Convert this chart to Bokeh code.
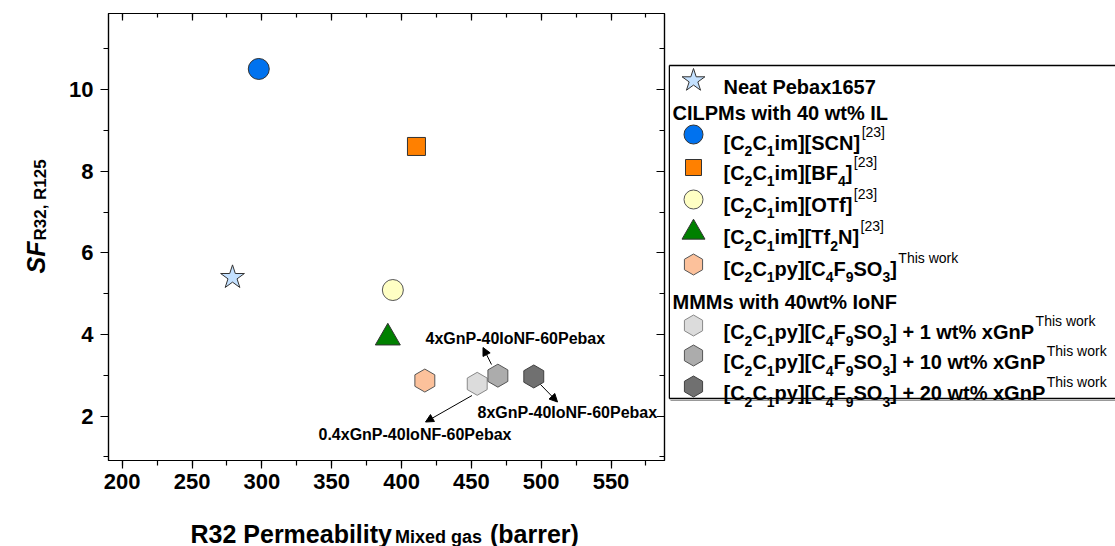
import numpy as np
from bokeh.plotting import figure
from bokeh.layouts import row, column
from bokeh.models import (Range1d, LinearAxis, SingleIntervalTicker, Label, Arrow,
                          NormalHead, CustomJSTickFormatter, ColumnDataSource)
from bokeh.embed import file_html
from bokeh.resources import INLINE

FONT = "Liberation Sans"

# ---------------- data ----------------
series = ["Neat Pebax1657", "[C2C1im][SCN]", "[C2C1im][BF4]", "[C2C1im][OTf]",
          "[C2C1im][Tf2N]", "[C2C1py][C4F9SO3]", "[C2C1py][C4F9SO3] + 1 wt% xGnP",
          "[C2C1py][C4F9SO3] + 10 wt% xGnP", "[C2C1py][C4F9SO3] + 20 wt% xGnP"]
permeability = [279.0, 297.8, 410.7, 393.8, 390.2, 416.7, 454.2, 469.0, 494.7]
selectivity = [5.40, 10.51, 8.61, 5.09, 3.92, 2.87, 2.79, 2.99, 2.97]

x_ticks_interval = 50
y_ticks_interval = 2

# ---------------- styles ----------------
markers = ["star", "circle", "square", "circle", "triangle", "hex", "hex", "hex", "hex"]
fills = ["#c4e1ff", "#0072ef", "#ff8000", "#ffffc4", "#008000", "#fcc19b",
         "#dcdcdc", "#acacac", "#707070"]
lines = ["#333333", "#333333", "#333333", "#555555", "#333333", "#555555",
         "#888888", "#555555", "#404040"]
plot_sizes = [25, 21, 18, 21, 25, 23, 23, 23, 23]
leg_sizes = [24, 19, 16, 19, 23, 21, 21, 21, 21]
angles = [0, 0, 0, 0, 0, np.pi / 2, np.pi / 2, np.pi / 2, np.pi / 2]

# ---------------- text metrics (Arial / Liberation Sans) ----------------
BOLD_W = {' ': 278, '%': 889, '(': 333, ')': 333, '+': 584, ',': 278, '-': 333, '.': 278,
          '[': 333, ']': 333}
for c in "0123456789":
    BOLD_W[c] = 556
BOLD_W.update(dict(zip("ABCDEFGHIJKLMNOPQRSTUVWXYZ",
                       [722, 722, 722, 722, 667, 611, 778, 722, 278, 556, 722, 611, 833,
                        722, 778, 667, 778, 722, 667, 611, 722, 667, 944, 667, 667, 611])))
BOLD_W.update(dict(zip("abcdefghijklmnopqrstuvwxyz",
                       [556, 611, 556, 611, 556, 333, 611, 611, 278, 278, 556, 278, 889,
                        611, 611, 611, 611, 389, 556, 333, 611, 556, 778, 556, 556, 500])))
REG_W = {' ': 278, 'T': 611, 'h': 556, 'i': 222, 's': 500, 'w': 722, 'o': 556, 'r': 333,
         'k': 500, '[': 278, ']': 278}
for c in "0123456789":
    REG_W[c] = 556


def tw(s, size, bold=True):
    tab = BOLD_W if bold else REG_W
    return sum(tab.get(c, 556) for c in s) / 1000.0 * size


def add_label(fig, x, y, text, size, style="bold", angle=0.0, align="left",
              baseline="alphabetic"):
    fig.add_layout(Label(x=x, y=y, text=text, text_font=FONT,
                         text_font_size=f"{size}px", text_font_style=style,
                         text_color="black", angle=angle, text_align=align,
                         text_baseline=baseline))


# ---------------- layout (page pixels) ----------------
Y_W = 60                     # y-title panel width
FL, FT, FW, FH = 108, 13, 556, 447   # main frame
B_TOP, B_BOTTOM = FT, 52
LEG_L, LEG_W = 668, 447
TOTAL_W, TOTAL_H = 1115, 546
ROW_H = B_TOP + FH + B_BOTTOM
XT_SHIFT = 8                 # measured offset of the title strip

X0, X1 = 190.2, 588.3
Y0, Y1 = 0.91, 11.87


def dx(px):
    return X0 + (px - FL) / FW * (X1 - X0)


def dy(py):
    return Y1 - (py - FT) / FH * (Y1 - Y0)


def panel(x0, x1, y0, y1, w, h, bl=0, br=0, bt=0, bb=0):
    f = figure(x_range=Range1d(x0, x1), y_range=Range1d(y1, y0), title=None,
               frame_width=w, frame_height=h, min_border_left=bl,
               min_border_right=br, min_border_top=bt, min_border_bottom=bb,
               output_backend="svg", toolbar_location=None,
               x_axis_type=None, y_axis_type=None, outline_line_color=None,
               background_fill_color="white", border_fill_color="white")
    f.grid.visible = False
    return f


# ---------------- main plot ----------------
p = figure(x_range=Range1d(X0, X1), y_range=Range1d(Y0, Y1), title=None,
           frame_width=FW, frame_height=FH,
           min_border_left=FL - Y_W, min_border_right=LEG_L - FL - FW,
           min_border_top=B_TOP, min_border_bottom=B_BOTTOM,
           output_backend="svg", toolbar_location=None,
           background_fill_color="white", border_fill_color="white")
p.xgrid.visible = False
p.ygrid.visible = False
p.outline_line_color = "black"
p.outline_line_width = 1.2

for ax in p.xaxis:
    ax.ticker = SingleIntervalTicker(interval=x_ticks_interval, num_minor_ticks=2)
for ax in p.yaxis:
    ax.ticker = SingleIntervalTicker(interval=y_ticks_interval, num_minor_ticks=2)

for ax in list(p.xaxis) + list(p.yaxis):
    ax.major_tick_out = 8
    ax.major_tick_in = 0
    ax.minor_tick_out = 5
    ax.minor_tick_in = 0
    ax.axis_line_width = 1.2
    ax.major_tick_line_width = 1.2
    ax.minor_tick_line_width = 1.2
    ax.axis_line_color = "black"
    ax.major_tick_line_color = "black"
    ax.minor_tick_line_color = "black"
    ax.major_label_text_font = FONT
    ax.major_label_text_font_style = "bold"
    ax.major_label_text_font_size = "22px"
    ax.major_label_text_color = "black"
p.xaxis.major_label_standoff = 5
p.yaxis.major_label_standoff = 7

blank = CustomJSTickFormatter(code="return ''")
top = LinearAxis(ticker=SingleIntervalTicker(interval=x_ticks_interval, num_minor_ticks=2),
                 formatter=blank, major_tick_in=7, major_tick_out=0, minor_tick_in=4,
                 minor_tick_out=0, major_label_text_font_size="0px",
                 major_label_standoff=0, axis_line_width=1.2,
                 major_tick_line_width=1.2, minor_tick_line_width=1.2)
right = LinearAxis(ticker=SingleIntervalTicker(interval=y_ticks_interval, num_minor_ticks=2),
                   formatter=blank, major_tick_in=8, major_tick_out=0, minor_tick_in=5,
                   minor_tick_out=0, major_label_text_font_size="0px",
                   major_label_standoff=0, axis_line_width=1.2,
                   major_tick_line_width=1.2, minor_tick_line_width=1.2)
p.add_layout(top, "above")
p.add_layout(right, "right")

src = ColumnDataSource(dict(x=permeability, y=selectivity, marker=markers, fill=fills,
                            line=lines, size=plot_sizes, angle=angles))
p.scatter("x", "y", source=src, marker="marker", size="size", fill_color="fill",
          line_color="line", line_width=1, angle="angle")

# annotations
add_label(p, dx(425), dy(338), "4xGnP-40IoNF-60Pebax", 16, baseline="middle")
add_label(p, dx(477), dy(412), "8xGnP-40IoNF-60Pebax", 16, baseline="middle")
add_label(p, dx(318), dy(434), "0.4xGnP-40IoNF-60Pebax", 16, baseline="middle")

for (xs, ys, xe, ye) in [(491, 364, 482.5, 347), (540, 384, 557, 401.5),
                         (471.5, 395, 425, 421.5)]:
    p.add_layout(Arrow(end=NormalHead(size=8, fill_color="black", line_color="black",
                                      line_width=1),
                       x_start=dx(xs), y_start=dy(ys), x_end=dx(xe), y_end=dy(ye),
                       line_color="black", line_width=1))

# ---------------- y-title panel ----------------
yt = panel(0, Y_W, FT, FT + FH, Y_W, FH, bt=B_TOP, bb=B_BOTTOM)
sf_w = tw("SF", 25)
add_label(yt, 35, 273, "SF", 25, style="bold italic", angle=np.pi / 2)
add_label(yt, 40, 273 - sf_w - 1, "R32, R125", 17, angle=np.pi / 2)

# ---------------- legend panel ----------------
leg = panel(LEG_L, LEG_L + LEG_W, FT, FT + FH, LEG_W, FH, bt=B_TOP, bb=B_BOTTOM)
BOX_T, BOX_B = 65.0, 398.0
leg.segment(x0=[LEG_L + 0.75, LEG_L + 0.75, LEG_L + 0.75], y0=[BOX_T, BOX_T, BOX_B],
            x1=[LEG_L + LEG_W, LEG_L + 0.75, LEG_L + LEG_W], y1=[BOX_T, BOX_B, BOX_B],
            line_color="black", line_width=1.5)
leg.segment(x0=[LEG_L + 2], y0=[BOX_B + 2], x1=[LEG_L + LEG_W], y1=[BOX_B + 2],
            line_color="#999999", line_width=1)

marker_y = [80, 134, 167, 199, 232, 264, 325, 355, 386]
base_y = [86.7, 142.3, 172.3, 204.3, 236.7, 268.3, 331.7, 361.7, 392.7]
header_y = [112.3, 301.7]
headers = ["CILPMs with 40 wt% IL", "MMMs with 40wt% IoNF"]

lsrc = ColumnDataSource(dict(x=[693] * 9, y=marker_y, marker=markers, fill=fills,
                             line=lines, size=leg_sizes, angle=angles))
leg.scatter("x", "y", source=lsrc, marker="marker", size="size", fill_color="fill",
            line_color="line", line_width=1, angle="angle")

il = [("n", "[C"), ("b", "2"), ("n", "C"), ("b", "1")]
py = [("n", "[C"), ("b", "2"), ("n", "C"), ("b", "1"), ("n", "py][C"), ("b", "4"),
      ("n", "F"), ("b", "9"), ("n", "SO"), ("b", "3")]
entries = [
    [("n", "Neat Pebax1657")],
    il + [("n", "im][SCN]"), ("p", "[23]")],
    il + [("n", "im][BF"), ("b", "4"), ("n", "]"), ("p", "[23]")],
    il + [("n", "im][OTf]"), ("p", "[23]")],
    il + [("n", "im][Tf"), ("b", "2"), ("n", "N]"), ("p", "[23]")],
    py + [("n", "]"), ("p", "This work")],
    py + [("n", "] + 1 wt% xGnP"), ("p", "This work")],
    py + [("n", "] + 10 wt% xGnP"), ("p", "This work")],
    py + [("n", "] + 20 wt% xGnP"), ("p", "This work")],
]

MAIN, SUB, SUP = 20, 14, 14
for pieces, by in zip(entries, base_y):
    x = 723.0
    for kind, t in pieces:
        if kind == "n":
            add_label(leg, x, by, t, MAIN)
            x += tw(t, MAIN)
        elif kind == "b":
            add_label(leg, x, by + 8.5, t, SUB)
            x += tw(t, SUB)
        else:
            add_label(leg, x + 1.5, by - 11, t, SUP, style="normal")
            x += tw(t, SUP, bold=False) + 1.5

for h, hy in zip(headers, header_y):
    add_label(leg, 672, hy, h, MAIN)

# ---------------- x-title panel ----------------
xt = panel(0, TOTAL_W, ROW_H, TOTAL_H, TOTAL_W, TOTAL_H - ROW_H)
xl = 190.0
add_label(xt, xl, 541 - XT_SHIFT, "R32 Permeability", 25)
xl += tw("R32 Permeability", 25) + 3
add_label(xt, xl, 544 - XT_SHIFT, "Mixed gas", 18)
xl += tw("Mixed gas", 18) + 8
add_label(xt, xl, 541 - XT_SHIFT, "(barrer)", 25)

layout = column(row(yt, p, leg), xt)
open("out.html", "w").write(file_html(layout, INLINE))
